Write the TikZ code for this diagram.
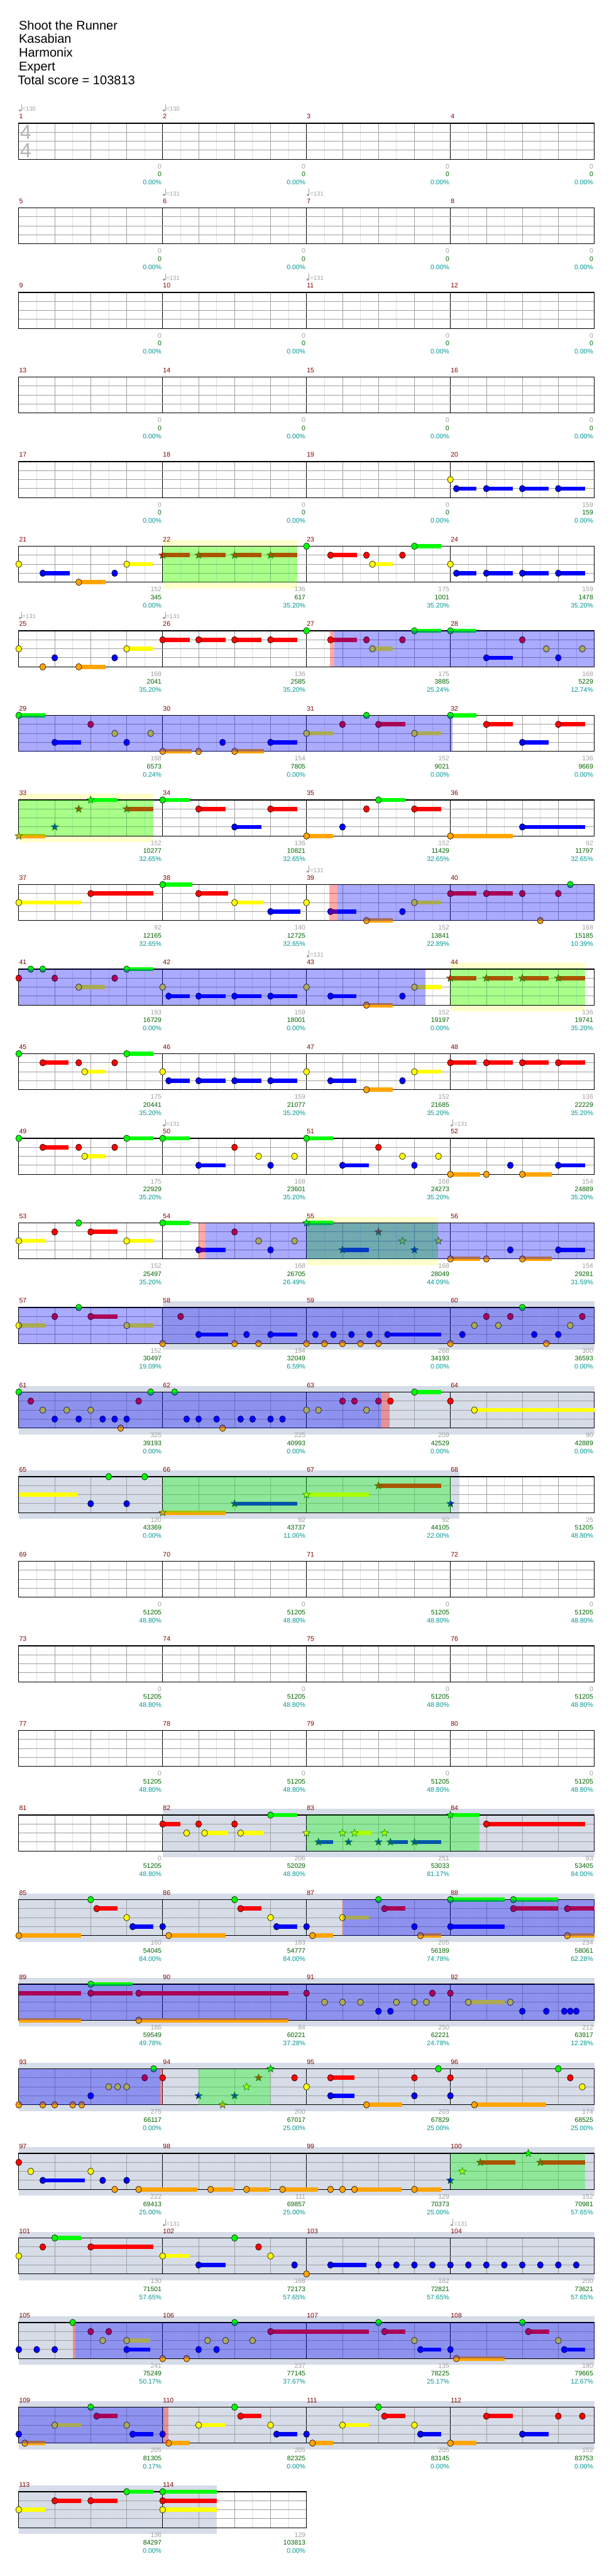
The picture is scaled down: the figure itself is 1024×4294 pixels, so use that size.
\documentclass[tikz,border=0pt]{standalone}
\usepackage{fontspec}
\setmainfont{Liberation Sans}
\usetikzlibrary{shapes.geometric}
\definecolor{cG}{RGB}{0,255,0}
\definecolor{cR}{RGB}{255,0,0}
\definecolor{cY}{RGB}{255,255,0}
\definecolor{cB}{RGB}{0,0,255}
\definecolor{cO}{RGB}{255,165,0}
\definecolor{mnum}{RGB}{128,0,0}
\definecolor{gnum}{RGB}{160,160,160}
\definecolor{snum}{RGB}{0,100,0}
\definecolor{pnum}{RGB}{0,150,150}
\definecolor{bgyel}{RGB}{255,255,204}
\definecolor{bgsteel}{RGB}{214,220,232}
\definecolor{lanegray}{RGB}{160,160,160}
\definecolor{halfgray}{RGB}{222,222,222}
\definecolor{tsgray}{RGB}{180,180,180}
\def\laneG{0}\def\laneR{1}\def\laneY{2}\def\laneB{3}\def\laneO{4}
\tikzset{
 notest/.style={draw=black,line width=0.6pt},
 starst/.style={star,star points=5,star point ratio=2.4,minimum size=13pt,inner sep=0pt,draw=green!35!black,line width=0.6pt},
 mnumst/.style={anchor=base west,inner sep=0pt,text=mnum,font=\fontsize{11}{13}\selectfont},
 gst/.style={anchor=base east,inner sep=0pt,text=gnum,font=\fontsize{11}{13}\selectfont},
 sst/.style={anchor=base east,inner sep=0pt,text=snum,font=\fontsize{11}{13}\selectfont},
 pst/.style={anchor=base east,inner sep=0pt,text=pnum,font=\fontsize{11}{13}\selectfont},
 tst/.style={anchor=base west,inner sep=0pt,text=gnum,font=\fontsize{10}{12}\selectfont},
 ttl/.style={anchor=base west,inner sep=0pt,font=\fontsize{21}{23}\selectfont},
}
\newcommand\NT[3]{\filldraw[notest,fill=c#3] ({31.3+60*(#2)},{205.5+141*(#1)+15*\csname lane#3\endcsname}) ellipse (5 and 5.5);}
\newcommand\SU[4]{\fill[c#4] ({31.3+60*(#2)},{202+141*(#1)+15*\csname lane#4\endcsname}) rectangle ({31.3+60*(#3)},{209+141*(#1)+15*\csname lane#4\endcsname});}
\newcommand\SN[4]{\SU{#1}{#2}{#3}{#4}\NT{#1}{#2}{#4}}
\newcommand\TN[3]{\node[starst,fill=c#3] at ({31.3+60*(#2)},{205.5+141*(#1)+15*\csname lane#3\endcsname}) {};}
\newcommand\TS[4]{\SU{#1}{#2}{#3}{#4}\TN{#1}{#2}{#4}}
\newcommand\bgY[3]{\fill[bgyel] ({31.3+60*(#2)},{195+141*(#1)}) rectangle ({31.3+60*(#3)},{276+141*(#1)});}
\newcommand\bgS[3]{\fill[bgsteel] ({31.3+60*(#2)},{195+141*(#1)}) rectangle ({31.3+60*(#3)},{276+141*(#1)});}
\newcommand\ovB[3]{\fill[cB,opacity=0.333] ({31.3+60*(#2)},{205.5+141*(#1)}) rectangle ({31.3+60*(#3)},{265.5+141*(#1)});}
\newcommand\ovG[3]{\fill[cG,opacity=0.333] ({31.3+60*(#2)},{205.5+141*(#1)}) rectangle ({31.3+60*(#3)},{265.5+141*(#1)});}
\newcommand\ovP[3]{\fill[cR,opacity=0.333] ({31.3+60*(#2)},{205.5+141*(#1)}) rectangle ({31.3+60*(#3)},{265.5+141*(#1)});}
\newcommand\STAFF[2]{%
 \pgfmathsetmacro\st{205.5+141*(#1)}%
 \pgfmathsetmacro\sw{31.3+240*(#2)}%
 \pgfmathtruncatemacro\nb{4*(#2)}%
 \pgfmathtruncatemacro\nm{#2-1}%
 \foreach \k in {1,...,\nb}{\draw[halfgray,line width=0.8pt] ({31.3+60*(\k-0.5)},\st) -- ({31.3+60*(\k-0.5)},{\st+60});}%
 \foreach \k in {1,...,\nb}{\draw[lanegray,line width=0.8pt] ({31.3+60*\k},\st) -- ({31.3+60*\k},{\st+60});}%
 \foreach \k in {1,...,\nm}{\draw[black,line width=0.8pt] ({31.3+240*\k},\st) -- ({31.3+240*\k},{\st+60});}%
 \foreach \l in {1,2,3}{\draw[lanegray,line width=1.1pt] (31.3,{\st+15*\l}) -- (\sw,{\st+15*\l});}%
 \draw[black,line width=1.3pt] (31.3,\st) rectangle (\sw,{\st+60});%
}
\newcommand\MEAS[6]{%
 \node[mnumst] at ({31.8+240*(#2)},{198+141*(#1)}) {#3};
 \node[gst] at ({29.7+240*(#2+1)},{281.2+141*(#1)}) {#4};
 \node[sst] at ({29.7+240*(#2+1)},{294.5+141*(#1)}) {#5};
 \node[pst] at ({29.7+240*(#2+1)},{307.8+141*(#1)}) {#6};
}
\newcommand\TEMPO[3]{%
 \fill[gnum] ({33.6+240*(#2)},{184+141*(#1)}) ellipse (2.2 and 1.6);
 \draw[gnum,line width=0.6pt] ({35.5+240*(#2)},{184+141*(#1)}) -- ({35.5+240*(#2)},{174+141*(#1)});
 \node[tst] at ({37+240*(#2)},{185.3+141*(#1)}) {=#3};
}
\begin{document}
\begin{tikzpicture}[x=1pt,y=-1pt]
\useasboundingbox (0,0) rectangle (1024,4294);
\fill[white] (0,0) rectangle (1024,4294);
\node[ttl] (t1) at (31.3,49.3) {Shoot the Runner};
\node[ttl] (t2) at (31.3,72.3) {Kasabian};
\node[ttl] (t3) at (31.3,95.3) {Harmonix};
\node[ttl] (t4) at (31.3,118.3) {Expert};
\node[ttl] (t5) at (29.5,141.3) {Total score = 103813};
% empty rows
\foreach \r in {0,1,2,3,17,18,19}{\STAFF{\r}{4}}
\node[text=tsgray,inner sep=0pt,font=\fontsize{34}{34}\selectfont] (ts1) at (43,221) {4};
\node[text=tsgray,inner sep=0pt,font=\fontsize{34}{34}\selectfont] (ts2) at (43,251) {4};
% Row 4
\STAFF{4}{4}
\NT{4}{12}{Y}\SN{4}{12.167}{12.73}{B}\SN{4}{13}{13.74}{B}\SN{4}{14}{14.74}{B}\SN{4}{15}{15.74}{B}
% Row 5
\bgY{5}{4}{7.74}
\STAFF{5}{4}
\NT{5}{0}{Y}\SN{5}{0.667}{1.41}{B}\SN{5}{1.667}{2.41}{O}\NT{5}{2.667}{B}\SN{5}{3}{3.73}{Y}
\TS{5}{4}{4.75}{R}\TS{5}{5}{5.75}{R}\TS{5}{6}{6.75}{R}\TS{5}{7}{7.74}{R}
\NT{5}{8}{G}\SN{5}{8.667}{9.41}{R}\NT{5}{9.667}{R}\SN{5}{9.833}{10.39}{Y}\NT{5}{10.667}{R}\SN{5}{11}{11.74}{G}
\NT{5}{12}{Y}\SN{5}{12.167}{12.73}{B}\SN{5}{13}{13.74}{B}\SN{5}{14}{14.74}{B}\SN{5}{15}{15.74}{B}
\ovG{5}{4}{7.74}
% Row 6
\STAFF{6}{4}
\NT{6}{0}{Y}\NT{6}{0.667}{O}\NT{6}{1}{B}\SN{6}{1.667}{2.41}{O}\NT{6}{2.667}{B}\SN{6}{3}{3.73}{Y}
\SN{6}{4}{4.75}{R}\SN{6}{5}{5.75}{R}\SN{6}{6}{6.75}{R}\SN{6}{7}{7.74}{R}
\NT{6}{8}{G}\SN{6}{8.667}{9.41}{R}\NT{6}{9.667}{R}\SN{6}{9.833}{10.39}{Y}\NT{6}{10.667}{R}\SN{6}{11}{11.74}{G}\SN{6}{12}{12.73}{G}
\SN{6}{13}{13.74}{B}\NT{6}{14}{R}\NT{6}{14.667}{Y}\NT{6}{15}{B}\NT{6}{15.667}{Y}
\ovP{6}{8.65}{8.78}\ovB{6}{8.78}{16}
% Row 7
\STAFF{7}{4}
\SN{7}{0}{0.74}{G}\SN{7}{1}{1.74}{B}\NT{7}{2}{R}\NT{7}{2.667}{Y}\NT{7}{3}{B}\NT{7}{3.667}{Y}
\SN{7}{4}{4.81}{O}\NT{7}{5}{O}\NT{7}{5.667}{B}\SN{7}{6}{6.81}{O}\SN{7}{7}{7.74}{B}
\SN{7}{8}{8.74}{Y}\NT{7}{9}{R}\NT{7}{9.667}{G}\SN{7}{10}{10.74}{R}\SN{7}{11}{11.74}{Y}
\SN{7}{12}{12.73}{G}\SN{7}{13}{13.74}{R}\SN{7}{14}{14.74}{B}\SN{7}{15}{15.74}{R}
\ovB{7}{0}{12.05}
% Row 8
\bgY{8}{0}{3.74}
\STAFF{8}{4}
\TS{8}{0}{0.74}{O}\TN{8}{1}{B}\TN{8}{1.667}{R}\TS{8}{2}{2.74}{G}\TS{8}{3}{3.74}{R}
\SN{8}{4}{4.75}{G}\SN{8}{5}{5.75}{R}\SN{8}{6}{6.75}{B}\SN{8}{7}{7.74}{R}
\SN{8}{8}{8.74}{O}\NT{8}{9}{B}\NT{8}{9.667}{R}\SN{8}{10}{10.74}{G}\SN{8}{11}{11.74}{R}
\SN{8}{12}{13.74}{O}\SN{8}{14}{15.74}{B}
\ovG{8}{0}{3.74}
% Row 9
\STAFF{9}{4}
\SN{9}{0}{1.74}{Y}\SN{9}{2}{3.74}{R}\SN{9}{4}{4.83}{G}\SN{9}{5}{5.82}{R}\SN{9}{6}{6.82}{Y}\SN{9}{7}{7.83}{B}
\NT{9}{8}{Y}\SN{9}{8.667}{9.39}{B}\SN{9}{9.667}{10.39}{O}\NT{9}{10.667}{B}\SN{9}{11}{11.74}{Y}
\SN{9}{12}{12.73}{R}\SN{9}{13}{13.74}{R}\NT{9}{14}{R}\NT{9}{14.5}{O}\NT{9}{15}{R}\NT{9}{15.333}{G}
\ovP{9}{8.64}{8.86}\ovB{9}{8.86}{16}
% Row 10
\bgY{10}{12}{15.74}
\STAFF{10}{4}
\NT{10}{0}{R}\NT{10}{0.333}{G}\NT{10}{0.667}{G}\NT{10}{1}{R}\SN{10}{1.667}{2.39}{Y}\NT{10}{2.667}{R}\SN{10}{3}{3.74}{G}
\NT{10}{4}{Y}\SN{10}{4.167}{4.75}{B}\SN{10}{5}{5.75}{B}\SN{10}{6}{6.75}{B}\SN{10}{7}{7.74}{B}
\NT{10}{8}{Y}\SN{10}{8.667}{9.39}{B}\SN{10}{9.667}{10.39}{O}\NT{10}{10.667}{B}\SN{10}{11}{11.74}{Y}
\TS{10}{12}{12.73}{R}\TS{10}{13}{13.74}{R}\TS{10}{14}{14.74}{R}\TS{10}{15}{15.74}{R}
\ovG{10}{12}{15.74}\ovB{10}{0}{11.31}
% Row 11
\STAFF{11}{4}
\NT{11}{0}{G}\SN{11}{0.667}{1.39}{R}\NT{11}{1.667}{R}\SN{11}{1.833}{2.4}{Y}\NT{11}{2.667}{R}\SN{11}{3}{3.74}{G}
\NT{11}{4}{Y}\SN{11}{4.167}{4.75}{B}\SN{11}{5}{5.75}{B}\SN{11}{6}{6.75}{B}\SN{11}{7}{7.74}{B}
\NT{11}{8}{Y}\SN{11}{8.667}{9.39}{B}\SN{11}{9.667}{10.39}{O}\NT{11}{10.667}{B}\SN{11}{11}{11.74}{Y}
\SN{11}{12}{12.73}{R}\SN{11}{13}{13.74}{R}\SN{11}{14}{14.74}{R}\SN{11}{15}{15.74}{R}
% Row 12
\STAFF{12}{4}
\NT{12}{0}{G}\SN{12}{0.667}{1.39}{R}\NT{12}{1.667}{R}\SN{12}{1.833}{2.4}{Y}\NT{12}{2.667}{R}\SN{12}{3}{3.74}{G}
\SN{12}{4}{4.75}{G}\SN{12}{5}{5.75}{B}\NT{12}{6}{R}\NT{12}{6.667}{Y}\NT{12}{7}{B}\NT{12}{7.667}{Y}
\SN{12}{8}{8.74}{G}\SN{12}{9}{9.74}{B}\NT{12}{10}{R}\NT{12}{10.667}{Y}\NT{12}{11}{B}\NT{12}{11.667}{Y}
\SN{12}{12}{12.83}{O}\NT{12}{13}{O}\NT{12}{13.667}{B}\SN{12}{14}{14.82}{O}\SN{12}{15}{15.74}{B}
% Row 13
\bgY{13}{8}{11.65}
\STAFF{13}{4}
\SN{13}{0}{0.74}{Y}\NT{13}{1}{R}\NT{13}{1.667}{G}\SN{13}{2}{2.74}{R}\SN{13}{3}{3.74}{Y}
\SN{13}{4}{4.75}{G}\SN{13}{5}{5.75}{B}\NT{13}{6}{R}\NT{13}{6.667}{Y}\NT{13}{7}{B}\NT{13}{7.667}{Y}
\TS{13}{8}{8.74}{G}\TS{13}{9}{9.74}{B}\TN{13}{10}{R}\TN{13}{10.667}{Y}\TN{13}{11}{B}\TN{13}{11.667}{Y}
\SN{13}{12}{12.83}{O}\NT{13}{13}{O}\NT{13}{13.667}{B}\SN{13}{14}{14.82}{O}\SN{13}{15}{15.74}{B}
\ovG{13}{8}{11.65}\ovP{13}{5}{5.19}\ovB{13}{5.19}{16}
% Row 14
\bgS{14}{4}{16}
\STAFF{14}{4}
\SN{14}{0}{0.74}{Y}\NT{14}{1}{R}\NT{14}{1.667}{G}\SN{14}{2}{2.74}{R}\SN{14}{3}{3.74}{Y}
\NT{14}{4}{O}\NT{14}{4.5}{R}\SN{14}{5}{5.82}{B}\NT{14}{6}{O}\NT{14}{6.333}{B}\NT{14}{6.667}{O}\SN{14}{7}{7.74}{B}
\NT{14}{8}{O}\NT{14}{8.25}{B}\NT{14}{8.5}{O}\NT{14}{8.75}{B}\NT{14}{9}{O}\NT{14}{9.25}{B}\NT{14}{9.5}{O}\NT{14}{9.75}{B}\NT{14}{10}{O}\SN{14}{10.25}{11.74}{B}
\NT{14}{12}{O}\NT{14}{12.333}{B}\NT{14}{12.667}{Y}\NT{14}{13}{R}\NT{14}{13.333}{Y}\NT{14}{13.667}{R}\NT{14}{14}{G}\NT{14}{14.333}{B}\NT{14}{14.667}{O}\NT{14}{15}{B}\NT{14}{15.333}{Y}\NT{14}{15.667}{R}
\ovB{14}{0}{16}
% Row 15
\bgS{15}{0}{16}
\STAFF{15}{4}
\NT{15}{0}{G}\NT{15}{0.333}{R}\NT{15}{0.667}{Y}\NT{15}{1}{B}\NT{15}{1.333}{Y}\NT{15}{1.667}{B}\NT{15}{2}{Y}\NT{15}{2.333}{B}\NT{15}{2.667}{B}\NT{15}{2.833}{O}\NT{15}{3}{B}\NT{15}{3.333}{R}\NT{15}{3.667}{G}
\NT{15}{4.333}{G}\NT{15}{4.667}{B}\NT{15}{5}{B}\NT{15}{5.5}{B}\NT{15}{5.667}{O}\NT{15}{6.167}{B}\NT{15}{6.5}{B}\NT{15}{7}{B}\NT{15}{7.333}{B}
\NT{15}{8}{Y}\NT{15}{8.333}{Y}\NT{15}{9}{R}\NT{15}{9.333}{R}\NT{15}{9.667}{Y}\NT{15}{10}{R}\NT{15}{10.333}{R}\SN{15}{11}{11.74}{G}
\NT{15}{12}{R}\SN{15}{12.667}{16}{Y}
\ovB{15}{0}{10.09}\ovP{15}{10.09}{10.31}
% Row 16
\bgS{16}{0}{12.25}
\STAFF{16}{4}
\SU{16}{0}{1.64}{Y}\NT{16}{2}{B}\NT{16}{2.5}{G}\NT{16}{3}{B}\NT{16}{3.5}{G}
\TS{16}{4}{5.75}{O}\TS{16}{6}{7.74}{B}\TS{16}{8}{9.74}{Y}\TS{16}{10}{11.74}{R}\TN{16}{12}{B}
\ovG{16}{4}{12}
% Row 20
\bgS{20}{4}{16}
\STAFF{20}{4}
\SN{20}{4}{4.5}{R}\NT{20}{4.667}{Y}\NT{20}{5}{R}\SN{20}{5.167}{5.82}{Y}\NT{20}{6}{R}\SN{20}{6.167}{6.82}{Y}\SN{20}{7}{7.74}{G}
\TN{20}{8}{Y}\TS{20}{8.333}{8.74}{B}\TN{20}{9}{Y}\TN{20}{9.167}{B}\TS{20}{9.333}{9.81}{Y}\TN{20}{10}{B}\TN{20}{10.167}{Y}\TS{20}{10.333}{10.81}{B}\TS{20}{11}{11.74}{B}\TS{20}{12}{12.81}{G}
\SN{20}{13}{15.74}{R}
\ovG{20}{8}{12.81}
% Row 21
\bgS{21}{0}{16}
\STAFF{21}{4}
\SN{21}{0}{1.74}{O}\NT{21}{2}{G}\SN{21}{2.167}{2.74}{R}\NT{21}{3}{Y}\SN{21}{3.167}{3.74}{B}
\NT{21}{4}{B}\SN{21}{4.167}{5.75}{O}\NT{21}{6}{G}\SN{21}{6.167}{6.75}{R}\NT{21}{7}{Y}\SN{21}{7.167}{7.74}{B}
\NT{21}{8}{B}\SN{21}{8.167}{8.74}{O}\SN{21}{9}{9.74}{Y}\NT{21}{10}{G}\SN{21}{10.167}{10.74}{R}\NT{21}{11}{B}\SN{21}{11.167}{11.74}{O}
\SN{21}{12}{13.5}{G}\SN{21}{12}{13.5}{B}\SN{21}{13.75}{15}{G}\SN{21}{13.75}{15}{R}\SN{21}{15.25}{16}{R}\SN{21}{15.25}{16}{O}
\ovP{21}{9}{9.04}\ovB{21}{9.04}{16}
% Row 22
\bgS{22}{0}{16}
\STAFF{22}{4}
\SU{22}{0}{1.74}{R}\SU{22}{0}{1.74}{O}\SN{22}{2}{3.16}{G}\SN{22}{2}{3.16}{R}\SN{22}{3.333}{7.5}{R}\SN{22}{3.333}{7.5}{O}
\NT{22}{8}{R}\NT{22}{8.5}{Y}\NT{22}{9}{Y}\NT{22}{9.5}{Y}\NT{22}{10}{B}\NT{22}{10.333}{B}\NT{22}{10.5}{Y}\NT{22}{11}{Y}\NT{22}{11.333}{Y}\NT{22}{11.5}{R}
\NT{22}{12}{R}\SN{22}{12.5}{13.5}{Y}\NT{22}{13.667}{Y}\NT{22}{14}{B}\NT{22}{14.667}{B}\NT{22}{15.167}{B}\NT{22}{15.333}{B}\NT{22}{15.5}{B}
\ovB{22}{0}{16}
% Row 23
\bgS{23}{0}{16}
\STAFF{23}{4}
\NT{23}{0}{O}\NT{23}{0.667}{O}\NT{23}{1}{O}\NT{23}{1.5}{O}\NT{23}{1.75}{O}\NT{23}{2}{B}\NT{23}{2.5}{Y}\NT{23}{2.75}{Y}\NT{23}{3}{Y}\NT{23}{3.5}{R}\NT{23}{3.75}{G}\NT{23}{4}{R}
\TN{23}{5}{B}\TN{23}{5.667}{O}\TN{23}{6}{B}\TN{23}{6.333}{Y}\TN{23}{6.667}{R}\TN{23}{7}{G}
\NT{23}{7.667}{R}\NT{23}{8}{Y}\SN{23}{8.667}{9.33}{R}\SN{23}{8.667}{9.33}{B}\SN{23}{9.667}{10.66}{O}\NT{23}{11}{R}\NT{23}{11}{B}\NT{23}{11.667}{G}
\NT{23}{12}{R}\NT{23}{12}{B}\SN{23}{12.667}{14.66}{O}\NT{23}{15}{G}\NT{23}{15.333}{R}\NT{23}{15.667}{Y}
\ovG{23}{5}{7}\ovB{23}{0}{3.94}\ovP{23}{3.94}{4}
% Row 24
\bgS{24}{0}{16}
\STAFF{24}{4}
\NT{24}{0}{R}\NT{24}{0.333}{Y}\SN{24}{0.667}{1.83}{B}\NT{24}{2}{Y}\NT{24}{2.333}{B}\NT{24}{2.667}{O}\NT{24}{3}{B}\SN{24}{3.333}{4.97}{O}
\SN{24}{5.333}{5.98}{O}\SN{24}{6.333}{6.98}{O}\SN{24}{7.333}{8.32}{O}\NT{24}{8.667}{O}\NT{24}{9}{O}\SN{24}{9.333}{10.64}{O}\SN{24}{11}{11.74}{O}
\TN{24}{12}{B}\TN{24}{12.333}{Y}\TS{24}{12.833}{13.81}{R}\TN{24}{14.167}{G}\TS{24}{14.5}{15.74}{R}
\ovG{24}{12}{15.74}
% Row 25
\bgS{25}{0}{16}
\STAFF{25}{4}
\NT{25}{0}{Y}\NT{25}{0.667}{R}\SN{25}{1}{1.74}{G}\SN{25}{2}{3.74}{R}\SN{25}{4}{4.75}{Y}\SN{25}{5}{5.75}{B}\NT{25}{6}{G}\NT{25}{6.667}{R}\NT{25}{7}{Y}\NT{25}{7.667}{B}
\NT{25}{8}{O}\SN{25}{8.667}{9.67}{B}
\foreach \q in {10,10.5,...,15.5}{\NT{25}{\q}{B}}
% Row 26
\bgS{26}{0}{16}
\STAFF{26}{4}
\NT{26}{0}{B}\NT{26}{0.5}{B}\NT{26}{1}{B}\NT{26}{1.5}{G}\NT{26}{2}{R}\NT{26}{2.333}{Y}\NT{26}{2.5}{R}\SN{26}{3}{3.65}{Y}\SN{26}{3}{3.65}{B}
\NT{26}{4}{O}\NT{26}{4.667}{O}\NT{26}{5}{B}\NT{26}{5.25}{Y}\NT{26}{5.5}{B}\NT{26}{5.75}{Y}\NT{26}{6}{G}\NT{26}{6.5}{Y}\SN{26}{7}{9.74}{R}
\NT{26}{10}{G}\SN{26}{10.167}{10.74}{R}\NT{26}{11}{Y}\SN{26}{11.167}{11.74}{B}
\NT{26}{12}{B}\SN{26}{12.167}{13.5}{O}\NT{26}{14}{G}\SN{26}{14.167}{14.75}{R}\NT{26}{15}{Y}\SN{26}{15.167}{15.74}{B}
\ovP{26}{1.5}{1.58}\ovB{26}{1.58}{16}
% Row 27
\bgS{27}{0}{16}
\STAFF{27}{4}
\NT{27}{0}{B}\SN{27}{0.167}{0.74}{O}\SN{27}{1}{1.74}{Y}\NT{27}{2}{G}\SN{27}{2.167}{2.74}{R}\NT{27}{3}{Y}\SN{27}{3.167}{3.74}{B}
\NT{27}{4}{B}\SN{27}{4.167}{4.75}{O}\SN{27}{5}{5.75}{Y}\NT{27}{6}{G}\SN{27}{6.167}{6.75}{R}\NT{27}{7}{Y}\SN{27}{7.167}{7.74}{B}
\NT{27}{8}{B}\SN{27}{8.167}{8.74}{O}\SN{27}{9}{9.74}{Y}\NT{27}{10}{G}\SN{27}{10.167}{10.74}{R}\NT{27}{11}{Y}\SN{27}{11.167}{11.74}{B}
\SN{27}{12}{12.73}{O}\SN{27}{13}{13.74}{R}\SN{27}{14}{14.74}{B}\NT{27}{15}{R}\NT{27}{15.667}{R}
\ovB{27}{0}{4.03}\ovP{27}{4.03}{4.16}
% Row 28
\bgS{28}{0}{5.5}
\STAFF{28}{2}
\SN{28}{0}{0.74}{Y}\SN{28}{1}{1.74}{R}\SN{28}{2}{2.74}{R}\SN{28}{3}{3.74}{G}\SN{28}{4}{5.5}{G}\SN{28}{4}{5.5}{R}\SN{28}{4}{5.5}{Y}
% Tempo marks
\TEMPO{0}{0}{130}\TEMPO{0}{1}{130}
\TEMPO{1}{1}{131}\TEMPO{1}{2}{131}
\TEMPO{2}{1}{131}\TEMPO{2}{2}{131}
\TEMPO{6}{0}{131}\TEMPO{6}{1}{131}
\TEMPO{9}{2}{131}\TEMPO{10}{2}{131}
\TEMPO{12}{1}{131}\TEMPO{12}{3}{131}
\TEMPO{25}{1}{131}\TEMPO{25}{3}{131}
% Measure texts
\foreach \r in {0,...,3}{\foreach \c in {0,...,3}{\pgfmathtruncatemacro\mm{4*\r+\c+1}\MEAS{\r}{\c}{\mm}{0}{0}{0.00\%}}}
\MEAS{4}{0}{17}{0}{0}{0.00\%}\MEAS{4}{1}{18}{0}{0}{0.00\%}\MEAS{4}{2}{19}{0}{0}{0.00\%}\MEAS{4}{3}{20}{159}{159}{0.00\%}
\MEAS{5}{0}{21}{152}{345}{0.00\%}\MEAS{5}{1}{22}{136}{617}{35.20\%}\MEAS{5}{2}{23}{175}{1001}{35.20\%}\MEAS{5}{3}{24}{159}{1478}{35.20\%}
\MEAS{6}{0}{25}{168}{2041}{35.20\%}\MEAS{6}{1}{26}{136}{2585}{35.20\%}\MEAS{6}{2}{27}{175}{3885}{25.24\%}\MEAS{6}{3}{28}{168}{5229}{12.74\%}
\MEAS{7}{0}{29}{168}{6573}{0.24\%}\MEAS{7}{1}{30}{154}{7805}{0.00\%}\MEAS{7}{2}{31}{152}{9021}{0.00\%}\MEAS{7}{3}{32}{136}{9669}{0.00\%}
\MEAS{8}{0}{33}{152}{10277}{32.65\%}\MEAS{8}{1}{34}{136}{10821}{32.65\%}\MEAS{8}{2}{35}{152}{11429}{32.65\%}\MEAS{8}{3}{36}{92}{11797}{32.65\%}
\MEAS{9}{0}{37}{92}{12165}{32.65\%}\MEAS{9}{1}{38}{140}{12725}{32.65\%}\MEAS{9}{2}{39}{152}{13841}{22.89\%}\MEAS{9}{3}{40}{168}{15185}{10.39\%}
\MEAS{10}{0}{41}{193}{16729}{0.00\%}\MEAS{10}{1}{42}{159}{18001}{0.00\%}\MEAS{10}{2}{43}{152}{19197}{0.00\%}\MEAS{10}{3}{44}{136}{19741}{35.20\%}
\MEAS{11}{0}{45}{175}{20441}{35.20\%}\MEAS{11}{1}{46}{159}{21077}{35.20\%}\MEAS{11}{2}{47}{152}{21685}{35.20\%}\MEAS{11}{3}{48}{136}{22229}{35.20\%}
\MEAS{12}{0}{49}{175}{22929}{35.20\%}\MEAS{12}{1}{50}{168}{23601}{35.20\%}\MEAS{12}{2}{51}{168}{24273}{35.20\%}\MEAS{12}{3}{52}{154}{24889}{35.20\%}
\MEAS{13}{0}{53}{152}{25497}{35.20\%}\MEAS{13}{1}{54}{168}{26705}{26.49\%}\MEAS{13}{2}{55}{168}{28049}{44.09\%}\MEAS{13}{3}{56}{154}{29281}{31.59\%}
\MEAS{14}{0}{57}{152}{30497}{19.09\%}\MEAS{14}{1}{58}{194}{32049}{6.59\%}\MEAS{14}{2}{59}{268}{34193}{0.00\%}\MEAS{14}{3}{60}{300}{36593}{0.00\%}
\MEAS{15}{0}{61}{325}{39193}{0.00\%}\MEAS{15}{1}{62}{225}{40993}{0.00\%}\MEAS{15}{2}{63}{209}{42529}{0.00\%}\MEAS{15}{3}{64}{90}{42889}{0.00\%}
\MEAS{16}{0}{65}{120}{43369}{0.00\%}\MEAS{16}{1}{66}{92}{43737}{11.00\%}\MEAS{16}{2}{67}{92}{44105}{22.00\%}\MEAS{16}{3}{68}{25}{51205}{48.80\%}
\foreach \r in {17,18,19}{\foreach \c in {0,...,3}{\pgfmathtruncatemacro\mm{4*\r+\c+1}\MEAS{\r}{\c}{\mm}{0}{51205}{48.80\%}}}
\MEAS{20}{0}{81}{0}{51205}{48.80\%}\MEAS{20}{1}{82}{206}{52029}{48.80\%}\MEAS{20}{2}{83}{251}{53033}{81.17\%}\MEAS{20}{3}{84}{93}{53405}{84.00\%}
\MEAS{21}{0}{85}{160}{54045}{84.00\%}\MEAS{21}{1}{86}{183}{54777}{84.00\%}\MEAS{21}{2}{87}{205}{56189}{74.78\%}\MEAS{21}{3}{88}{234}{58061}{62.28\%}
\MEAS{22}{0}{89}{186}{59549}{49.78\%}\MEAS{22}{1}{90}{84}{60221}{37.28\%}\MEAS{22}{2}{91}{250}{62221}{24.78\%}\MEAS{22}{3}{92}{212}{63917}{12.28\%}
\MEAS{23}{0}{93}{275}{66117}{0.00\%}\MEAS{23}{1}{94}{200}{67017}{25.00\%}\MEAS{23}{2}{95}{203}{67829}{25.00\%}\MEAS{23}{3}{96}{174}{68525}{25.00\%}
\MEAS{24}{0}{97}{222}{69413}{25.00\%}\MEAS{24}{1}{98}{111}{69857}{25.00\%}\MEAS{24}{2}{99}{129}{70373}{25.00\%}\MEAS{24}{3}{100}{152}{70981}{57.65\%}
\MEAS{25}{0}{101}{130}{71501}{57.65\%}\MEAS{25}{1}{102}{168}{72173}{57.65\%}\MEAS{25}{2}{103}{162}{72821}{57.65\%}\MEAS{25}{3}{104}{200}{73621}{57.65\%}
\MEAS{26}{0}{105}{241}{75249}{50.17\%}\MEAS{26}{1}{106}{237}{77145}{37.67\%}\MEAS{26}{2}{107}{135}{78225}{25.17\%}\MEAS{26}{3}{108}{180}{79665}{12.67\%}
\MEAS{27}{0}{109}{205}{81305}{0.17\%}\MEAS{27}{1}{110}{205}{82325}{0.00\%}\MEAS{27}{2}{111}{205}{83145}{0.00\%}\MEAS{27}{3}{112}{152}{83753}{0.00\%}
\MEAS{28}{0}{113}{136}{84297}{0.00\%}\MEAS{28}{1}{114}{129}{103813}{0.00\%}
\end{tikzpicture}
\end{document}
